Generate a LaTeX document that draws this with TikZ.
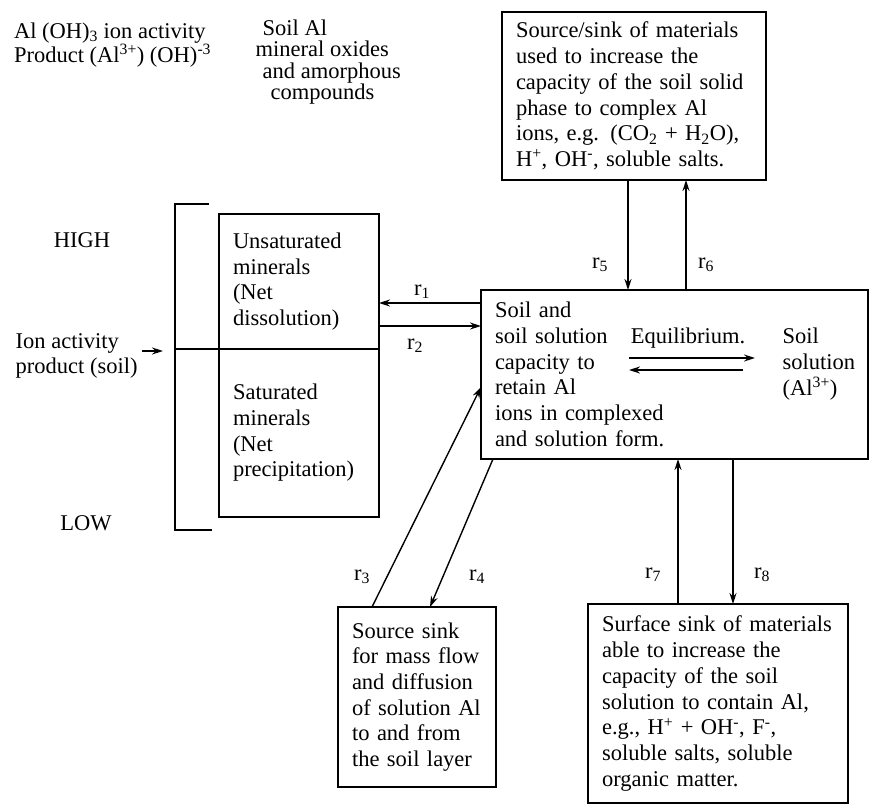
\documentclass[tikz,border=0pt]{standalone}
\usepackage{fontspec}
\setmainfont{Liberation Serif}
\usepackage{tikz}
\usetikzlibrary{arrows.meta}

\begin{document}
\begin{tikzpicture}[x=1pt,y=-1pt,>={Stealth[length=11pt,width=7pt]},line width=1.4pt,
    font=\fontsize{22.5}{25.7}\selectfont,
    box/.style={draw, anchor=north west, align=left, inner xsep=14pt, inner ysep=4pt, outer sep=0pt}]
      \useasboundingbox (0,0) rectangle (874,810);

      \node[align=left, anchor=west, font=\fontsize{22.5}{21}\selectfont] (alprod) at (10,45)
        {Al (OH)\textsubscript{3} ion activity\\Product (Al\textsuperscript{3+}) (OH)\textsuperscript{-3}};
      \node[align=left, anchor=west, inner sep=0pt, font=\fontsize{22.5}{21.3}\selectfont] (soilal) at (255,62)
        {\hspace*{7pt}Soil Al\\mineral oxides\\\hspace*{7pt}and amorphous\\\hspace*{15pt}compounds};
      \node (high) at (82,240) {HIGH};
      \node (low) at (86,523) {LOW};
      \node[align=left, anchor=west, inner sep=2pt] (iap) at (13,356) {Ion activity\\product (soil)};

      % mineral pools
      \node[box, minimum width=160pt, minimum height=135pt, text width=132pt] (unsat) at (219,214)
        {Unsaturated\\minerals\\(Net\\dissolution)\\*};
      \node[box, minimum width=160pt, minimum height=168pt, text width=132pt] (sat) at (219,349)
        {Saturated\\minerals\\(Net\\precipitation)};
      \coordinate (brk) at (175,204);
      \draw (209,204) -- (brk) -- (175,530) -- (212,530);
      \draw (unsat.south west) -- (unsat.south west -| brk);
      \coordinate (iapend) at (163,351);
      \draw[->] ([xshift=2pt]iap.east |- iapend) -- (iapend);

      % central pool
      \node[box, minimum width=387pt, minimum height=169pt, text width=359pt] (ctr) at (481,290)
        {Soil and\\soil solution\\capacity to\\retain Al\\ions in complexed\\and solution form.};
      \node (eq) at (688,338) {Equilibrium.};
      \node[align=left, anchor=west, inner sep=0pt] (sol) at (782,364) {Soil\\solution\\(Al\textsuperscript{3+})};
      \coordinate (eqL) at (629,364);
      \coordinate (eqR) at (755,364);
      \draw[->] ([yshift=6pt]eqL) -- ([yshift=6pt]eqR);
      \draw[->] ([yshift=-6pt,xshift=-12pt]eqR) -- ([yshift=-6pt]eqL);

      % sources and sinks
      \node[box, minimum width=264pt, minimum height=168pt, text width=236pt] (src) at (502,12)
        {Source/sink of materials\\used to increase the\\capacity of the soil solid\\phase to complex Al\\ions, e.g. (CO\textsubscript{2} + H\textsubscript{2}O),\\H\textsuperscript{+}, OH\textsuperscript{-}, soluble salts.};
      \node[box, minimum width=158pt, minimum height=180pt, text width=130pt] (flow) at (338,607)
        {Source sink\\for mass flow\\and diffusion\\of solution Al\\to and from\\the soil layer};
      \node[box, minimum width=260pt, minimum height=199pt, text width=232pt] (surf) at (588,604)
        {Surface sink of materials\\able to increase the\\capacity of the soil\\solution to contain Al,\\e.g., H\textsuperscript{+} + OH\textsuperscript{-}, F\textsuperscript{-},\\soluble salts, soluble\\organic matter.};

      \draw[->] ([yshift=71.5pt]ctr.west) -- ([yshift=-21.5pt]unsat.east);
      \draw[->] ([yshift=-44.5pt]unsat.east) -- ([yshift=48.5pt]ctr.west);
      \draw[->] ([xshift=-45pt]flow.north) -- ([yshift=-12.5pt]ctr.west);
      \draw[->] ([xshift=-181.5pt]ctr.south) -- ([xshift=13pt]flow.north);
      \draw[->] ([xshift=-6pt]src.south) -- ([xshift=-46.5pt]ctr.north);
      \draw[->] ([xshift=11.5pt]ctr.north) -- ([xshift=52pt]src.south);
      \draw[->] ([xshift=-40pt]surf.north) -- ([xshift=3.5pt]ctr.south);
      \draw[->] ([xshift=58.5pt]ctr.south) -- ([xshift=15pt]surf.north);

      \node (lr1) at (422,292) {r\textsubscript{1}};
      \node (lr2) at (415,346) {r\textsubscript{2}};
      \node (lr3) at (362,577) {r\textsubscript{3}};
      \node (lr4) at (477,577) {r\textsubscript{4}};
      \node (lr5) at (600,265) {r\textsubscript{5}};
      \node (lr6) at (706,265) {r\textsubscript{6}};
      \node (lr7) at (653,575) {r\textsubscript{7}};
      \node (lr8) at (762,575) {r\textsubscript{8}};
    \end{tikzpicture}
\end{document}
